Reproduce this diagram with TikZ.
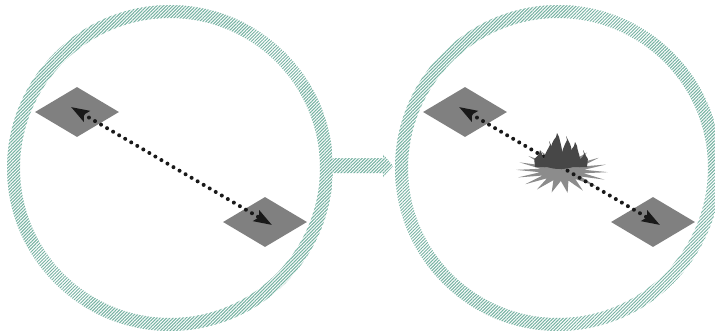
\documentclass[tikz,border=0pt]{standalone}
\usetikzlibrary{patterns.meta,arrows.meta,shapes.geometric}
\definecolor{ringteal}{RGB}{118,178,162}
\begin{document}
\begin{tikzpicture}[x=1pt,y=-1pt,
  ring/.style={pattern={Lines[angle=45,distance=2.3pt,line width=1pt]},pattern color=ringteal},
  plate/.style={diamond,fill=black!50,minimum width=84pt,minimum height=50pt,inner sep=0pt},
  dotarrow/.style={line width=4pt,dash pattern=on 0pt off 7pt,line cap=round,
    {Stealth[length=18pt,width=12pt,inset=3pt]}-{Stealth[length=18pt,width=12pt,inset=3pt]},black!90},
  plume/.style={fill=black!72}
]
\fill[white] (0,0) rectangle (715,335);
\useasboundingbox (0,0) rectangle (715,335);
% rings
\coordinate (cL) at (170,168);
\coordinate (cR) at (558,168);
\fill[ring,even odd rule] (cL) circle[radius=163] (cL) circle[radius=150];
\fill[ring,even odd rule] (cR) circle[radius=163] (cR) circle[radius=150];
% block arrow between rings
\fill[ring] (333,158) -- (383,158) -- (383,154) -- (393,166) -- (383,177) -- (383,173) -- (333,173) -- cycle;
% left scene
\node[plate] (aL) at (77,112) {};
\node[plate] (bL) at (265,222) {};
\coordinate (tA) at (71,107);
\coordinate (tB) at (272,225);
\draw[dotarrow] (tA) -- (tB);
% right scene
\node[plate] (aR) at (465,112) {};
\node[plate] (bR) at (653,222) {};
\coordinate (tC) at (459,107);
\coordinate (tD) at (660,225);
% starburst
\fill[black!45] plot[samples at={0,...,35},variable=\k]
  ({562+cos(\k*10+3)*(mod(\k,2)==0?46:22)},{171+sin(\k*10+3)*(mod(\k,2)==0?22:10)}) -- cycle;
\draw[dotarrow] (tC) -- (tD);
% dark plume
\fill[plume] (560,162) ellipse[x radius=18,y radius=7];
\foreach \c/\t/\w/\s in {540/150/5/-1,549/141/5/1,557/133/6/-1,566/136/5/1,575/142/5/-1,583/150/4/1}{
  \fill[plume] (\c-\w,167) .. controls (\c-\w-1,155) and (\c-\w+\s*2,\t+12) .. (\c+\s,\t+4)
     -- (\c,\t) -- (\c+2,\t+4)
     .. controls (\c+\w+\s*2,\t+12) and (\c+\w+1,155) .. (\c+\w,167) -- cycle;
}
\end{tikzpicture}
\end{document}
